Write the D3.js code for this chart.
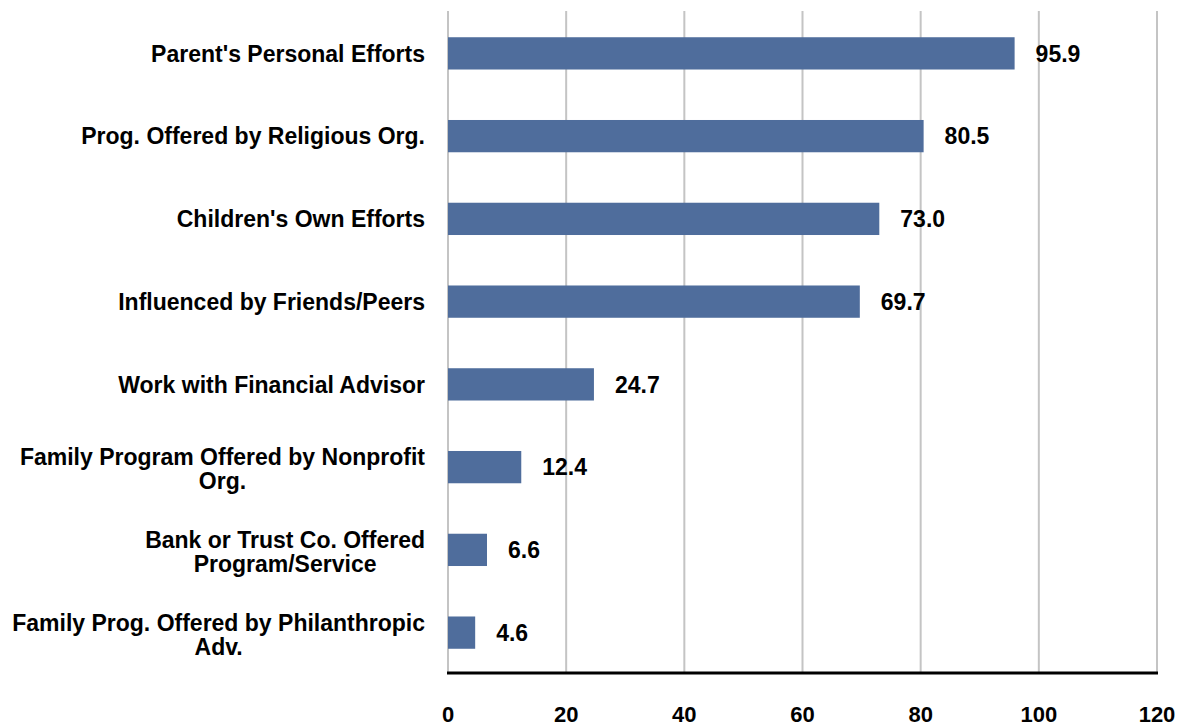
<!DOCTYPE html>
<html>
<head>
    <title>Bar Chart</title>
    <script src="https://d3js.org/d3.v7.min.js"></script>
    <style>
        body { margin: 0; background: #fff; overflow: hidden; }
        svg { display: block; }
        text { font-family: "Liberation Sans", Arial, sans-serif; font-weight: bold; fill: #000; }
        .grid line { stroke: #c4c4c4; stroke-width: 2px; }
    </style>
</head>
<body>
    <svg width="1186" height="727"></svg>

    <script>
        // data
        const categories = [
            ["Parent's Personal Efforts"],
            ["Prog. Offered by Religious Org."],
            ["Children's Own Efforts"],
            ["Influenced by Friends/Peers"],
            ["Work with Financial Advisor"],
            ["Family Program Offered by Nonprofit", "Org."],
            ["Bank or Trust Co. Offered", "Program/Service"],
            ["Family Prog. Offered by Philanthropic", "Adv."]
        ];
        const values = [95.9, 80.5, 73.0, 69.7, 24.7, 12.4, 6.6, 4.6];
        const xTicks = [0, 20, 40, 60, 80, 100, 120];

        const svg = d3.select("svg");
        const plotLeft = 448, plotRight = 1157, plotTop = 11, plotBottom = 673;
        const fontSize = "23px";

        const x = d3.scaleLinear().domain([0, 120]).range([plotLeft, plotRight]);
        const y = d3.scaleBand()
            .domain(d3.range(categories.length))
            .range([plotTop + 1, plotBottom + 1])
            .paddingInner(0.61)
            .paddingOuter(0.305);

        // gridlines
        svg.append("g").attr("class", "grid")
            .selectAll("line")
            .data(xTicks)
            .enter().append("line")
            .attr("x1", d => x(d)).attr("x2", d => x(d))
            .attr("y1", plotTop).attr("y2", plotBottom);

        // bars
        svg.selectAll(".bar")
            .data(values)
            .enter().append("rect")
            .attr("class", "bar")
            .attr("x", x(0))
            .attr("y", (d, i) => y(i))
            .attr("width", d => x(d) - x(0))
            .attr("height", y.bandwidth())
            .style("fill", "#4f6d9c");

        // value labels
        svg.selectAll(".val")
            .data(values)
            .enter().append("text")
            .attr("class", "val")
            .attr("x", d => x(d) + 21)
            .attr("y", (d, i) => y(i) + y.bandwidth() / 2)
            .attr("dy", "0.36em")
            .style("font-size", fontSize)
            .text(d => d.toFixed(1));

        // axis line along the bottom
        svg.append("line")
            .attr("x1", x(0) - 1).attr("x2", x(120) + 1)
            .attr("y1", plotBottom).attr("y2", plotBottom)
            .style("stroke", "#000").style("stroke-width", 3);

        // x tick labels
        svg.selectAll(".tick-label")
            .data(xTicks)
            .enter().append("text")
            .attr("class", "tick-label")
            .attr("x", d => x(d))
            .attr("y", 722)
            .attr("text-anchor", "middle")
            .style("font-size", "22px")
            .text(d => d);

        // category labels, multi-line ones centred on each other
        const labelRight = 425;
        const cat = svg.selectAll(".cat")
            .data(categories)
            .enter().append("g")
            .attr("class", "cat");

        cat.each(function (lines, i) {
            const g = d3.select(this);
            const cy = y(i) + y.bandwidth() / 2;
            const lh = 24;
            const t = g.append("text")
                .style("font-size", fontSize);
            lines.forEach((ln, j) => {
                t.append("tspan")
                    .attr("y", cy + (lines.length > 1 ? 2 : 0) + (j - (lines.length - 1) / 2) * lh)
                    .attr("dy", "0.36em")
                    .text(ln);
            });
            // right align the block, centre each line within it
            const widths = t.selectAll("tspan").nodes().map(n => n.getComputedTextLength());
            const w = d3.max(widths);
            const cx = labelRight - w / 2;
            t.attr("text-anchor", "middle");
            t.selectAll("tspan").attr("x", cx);
        });
    </script>
</body>
</html>
